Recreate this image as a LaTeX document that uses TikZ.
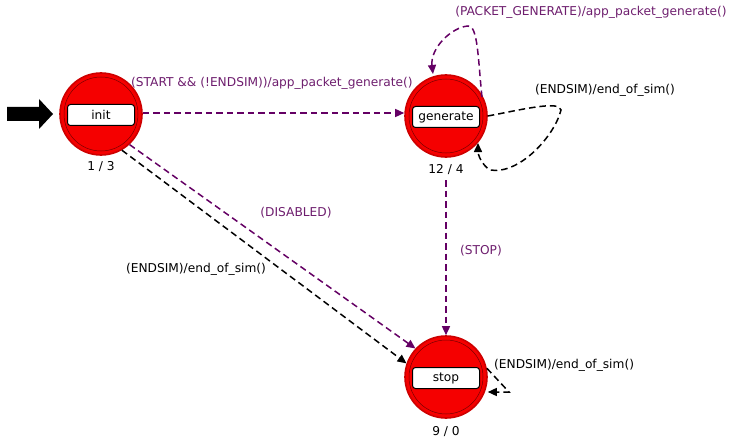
\documentclass[tikz,border=0pt]{standalone}
\usepackage{fontspec}
\setmainfont{DejaVu Sans}
\usetikzlibrary{arrows.meta}
\definecolor{trpurple}{RGB}{100,0,100}
\definecolor{lblpurple}{RGB}{110,30,110}
\definecolor{stred}{RGB}{245,0,0}
\definecolor{stedge}{RGB}{205,0,0}
\definecolor{stinner}{RGB}{120,0,0}
\tikzset{
  txt/.style={font=\fontsize{12.2}{14}\selectfont},
  statecirc/.style={circle, minimum size=82pt, inner sep=0pt, fill=stred, draw=stedge, line width=1.6pt},
  statelbl/.style={txt, rounded corners=3pt, draw=black, line width=1pt, fill=white, minimum width=67pt, minimum height=21pt, inner sep=0pt},
  cnt/.style={txt},
  trans/.style={dash pattern=on 6.5pt off 4pt, line width=1.5pt, -{Triangle[width=8pt,length=9pt]}},
  ptrans/.style={trans, draw=trpurple},
  btrans/.style={trans, draw=black},
  plbl/.style={txt, text=lblpurple, inner sep=1pt},
  blbl/.style={txt, text=black, inner sep=1pt},
}
\begin{document}
\begin{tikzpicture}[x=1pt,y=-1pt]
\useasboundingbox (0,0) rectangle (736,441);

% states
\node[statecirc] (init) at (101,114) {};
\draw[stinner, line width=0.5pt] (init.center) circle (37pt);
\node[statelbl] (initlbl) at (101,115) {init};
\node[cnt] (initcnt) at (101,167) {1 / 3};

\node[statecirc] (gen) at (446,116) {};
\draw[stinner, line width=0.5pt] (gen.center) circle (37pt);
\node[statelbl] (genlbl) at (446,117) {generate};
\node[cnt] (gencnt) at (446,170) {12 / 4};

\node[statecirc] (stop) at (446,377) {};
\draw[stinner, line width=0.5pt] (stop.center) circle (37pt);
\node[statelbl] (stoplbl) at (446,378) {stop};
\node[cnt] (stopcnt) at (446,432) {9 / 0};

% initial-state marker
\fill[black] (7,107) -- (39,107) -- (39,99) -- (53,114) -- (39,129) -- (39,121) -- (7,121) -- cycle;

% transitions
\coordinate (genloopout) at (482,97);
\coordinate (genloopin) at (433,74);
\coordinate (gentail) at (446,180);
\draw[ptrans] (init.east |- 0,113) -- (gen.west |- 0,113);
\node[plbl, anchor=base west] (l1) at (130,87) {(START \&\& (!ENDSIM))/app\_packet\_generate()};

\draw[ptrans] (genloopout) .. controls (478,60) and (478,25) .. (468,26)
  .. controls (452,27) and (430,48) .. (genloopin);
\node[plbl, anchor=base] (l2) at (591,16) {(PACKET\_GENERATE)/app\_packet\_generate()};

\draw[btrans] (gen.east) .. controls (520,110) and (560,100) .. (561,110)
  .. controls (555,135) and (520,175) .. (490,170) .. controls (482,165) and (478,155) .. (478,143);
\node[blbl, anchor=base] (l3) at (605,94) {(ENDSIM)/end\_of\_sim()};

\draw[ptrans] (gentail) -- (stop.north);
\node[plbl, anchor=base] (l4) at (481,254) {(STOP)};

\draw[ptrans] (init.-47) -- (stop.137);
\node[plbl, anchor=base] (l5) at (296,216) {(DISABLED)};

\draw[btrans] (init.-60) -- (stop.161);
\node[blbl, anchor=base] (l6) at (196,272) {(ENDSIM)/end\_of\_sim()};

\coordinate (stoploopturn) at (509,392);
\draw[btrans] (stop.12) -- (stoploopturn) -- (stop.east |- 0,392);
\node[blbl, anchor=base west] (l7) at (493,368) {(ENDSIM)/end\_of\_sim()};
\end{tikzpicture}
\end{document}
